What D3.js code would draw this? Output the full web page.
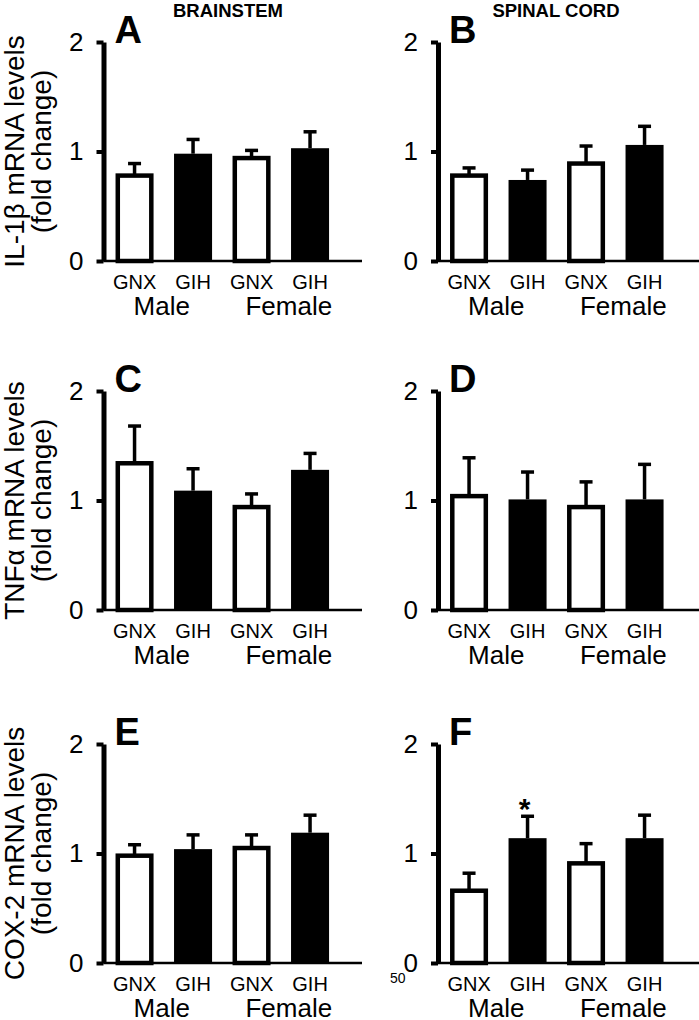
<!DOCTYPE html>
<html>
<head>
<meta charset="utf-8">
<script src="https://cdn.jsdelivr.net/npm/d3@7"></script>
<style>
  body { margin: 0; background: #fff; }
  text { font-family: Arial, "Liberation Sans", sans-serif; fill: #000; }
</style>
</head>
<body>
<script>
//chart data
var groups = ["GNX", "GIH", "GNX", "GIH"];
var sexes = ["Male", "Female"];
var panelLetters = ["A", "B", "C", "D", "E", "F"];
var regions = ["BRAINSTEM", "SPINAL CORD"];
var genes = ["IL-1\u03b2 mRNA levels", "TNF\u03b1 mRNA levels", "COX-2 mRNA levels"];
var yTicks = [0, 1, 2];

//means and SEM for each panel (order GNX male, GIH male, GNX female, GIH female)
var means = [
    [0.78, 0.98, 0.94, 1.03],
    [0.78, 0.74, 0.89, 1.06],
    [1.34, 1.09, 0.94, 1.28],
    [1.04, 1.01, 0.94, 1.01],
    [0.98, 1.04, 1.05, 1.19],
    [0.66, 1.14, 0.91, 1.14]
];
var sems = [
    [0.11, 0.13, 0.07, 0.15],
    [0.07, 0.09, 0.16, 0.17],
    [0.34, 0.20, 0.12, 0.15],
    [0.35, 0.25, 0.23, 0.32],
    [0.10, 0.13, 0.12, 0.16],
    [0.16, 0.20, 0.18, 0.21]
];
//significance marks: [panel index, bar index]
var stars = [[5, 1]];

//page layout
var width = 699, height = 1020;
var colAxisX = [103.5, 438];
var colAxisEnd = [362, 699];
var rowTop = [42, 391, 744];
var plotH = 219;

var svg = d3.select("body")
    .append("svg")
    .attr("width", width)
    .attr("height", height);

//column headers
regions.forEach(function(r, i){
    svg.append("text")
        .attr("x", i == 0 ? 228 : 556)
        .attr("y", 17)
        .attr("text-anchor", "middle")
        .attr("font-size", 18.5)
        .attr("font-weight", "bold")
        .text(r);
});

//y axis titles, one per row
genes.forEach(function(g, r){
    var cy = rowTop[r] + plotH / 2;
    var t = svg.append("g")
        .attr("transform", "translate(24," + cy + ") rotate(-90)");
    t.append("text")
        .attr("text-anchor", "middle")
        .attr("font-size", 28)
        .text(g);
    t.append("text")
        .attr("y", 27)
        .attr("text-anchor", "middle")
        .attr("font-size", 28)
        .text("(fold change)");
});

panelLetters.forEach(function(letter, p){
    var col = p % 2, row = Math.floor(p / 2);
    var ax = colAxisX[col], top = rowTop[row];

    var g = svg.append("g");

    var y = d3.scaleLinear()
        .domain([0, 2])
        .range([top + plotH, top]);

    var x = d3.scaleBand()
        .domain(d3.range(groups.length))
        .range([ax + 1.8, ax + 1.8 + 234])
        .paddingInner(0.35)
        .paddingOuter(0.175);

    //x baseline
    g.append("line")
        .attr("x1", ax)
        .attr("x2", colAxisEnd[col])
        .attr("y1", y(0))
        .attr("y2", y(0))
        .attr("stroke", "#000")
        .attr("stroke-width", 2.5);

    //bars
    var bw = x.bandwidth();
    g.selectAll("rect.bar")
        .data(means[p])
        .enter()
        .append("rect")
        .attr("class", "bar")
        .attr("x", function(d, i){ return i % 2 == 0 ? x(i) + 2.25 : x(i); })
        .attr("width", function(d, i){ return i % 2 == 0 ? bw - 4.5 : bw; })
        .attr("y", function(d){ return y(d); })
        .attr("height", function(d){ return y(0) - y(d); })
        .attr("fill", function(d, i){ return i % 2 == 0 ? "#fff" : "#000"; })
        .attr("stroke", function(d, i){ return i % 2 == 0 ? "#000" : "none"; })
        .attr("stroke-width", 4.5);

    //error bars (upper only)
    means[p].forEach(function(m, i){
        var cx = x(i) + bw / 2;
        var e = m + sems[p][i];
        g.append("line")
            .attr("x1", cx).attr("x2", cx)
            .attr("y1", y(m)).attr("y2", y(e))
            .attr("stroke", "#000").attr("stroke-width", 3.5);
        g.append("line")
            .attr("x1", cx - 6.5).attr("x2", cx + 6.5)
            .attr("y1", y(e)).attr("y2", y(e))
            .attr("stroke", "#000").attr("stroke-width", 3.5);
    });

    //stars
    stars.filter(function(s){ return s[0] == p; }).forEach(function(s){
        var i = s[1];
        g.append("text")
            .attr("x", x(i) + bw / 2 - 3)
            .attr("y", y(means[p][i] + sems[p][i]) + 3)
            .attr("text-anchor", "middle")
            .attr("font-size", 30)
            .attr("font-weight", "bold")
            .text("*");
    });

    //y axis
    var yAxis = g.append("g")
        .attr("transform", "translate(" + ax + ",0)")
        .call(d3.axisLeft(y).tickValues(yTicks).tickSize(7).tickSizeOuter(0).tickPadding(13).tickFormat(d3.format("d")));
    yAxis.select(".domain")
        .attr("stroke", "#000")
        .attr("stroke-width", 5);
    yAxis.selectAll(".tick line")
        .attr("stroke", "#000")
        .attr("stroke-width", 4);
    yAxis.selectAll(".tick text")
        .attr("font-size", 26)
        .attr("font-family", "Arial, 'Liberation Sans', sans-serif")
        .attr("fill", "#000");

    //group labels
    g.selectAll("text.grp")
        .data(groups)
        .enter()
        .append("text")
        .attr("class", "grp")
        .attr("x", function(d, i){ return x(i) + bw / 2; })
        .attr("y", y(0) + 28)
        .attr("text-anchor", "middle")
        .attr("font-size", 20)
        .text(function(d){ return d; });

    g.selectAll("text.sex")
        .data(sexes)
        .enter()
        .append("text")
        .attr("class", "sex")
        .attr("x", function(d, i){ return (x(2 * i) + x(2 * i + 1) + bw) / 2 + (i == 0 ? -2 : 8); })
        .attr("y", y(0) + 54)
        .attr("text-anchor", "middle")
        .attr("font-size", 26)
        .text(function(d){ return d; });

    //panel letter
    g.append("text")
        .attr("x", ax + 11)
        .attr("y", top + 1)
        .attr("font-size", 38)
        .attr("font-weight", "bold")
        .text(letter);
});

//page number
svg.append("text")
    .attr("x", 390)
    .attr("y", 983)
    .attr("font-size", 14)
    .text("50");
</script>
</body>
</html>
